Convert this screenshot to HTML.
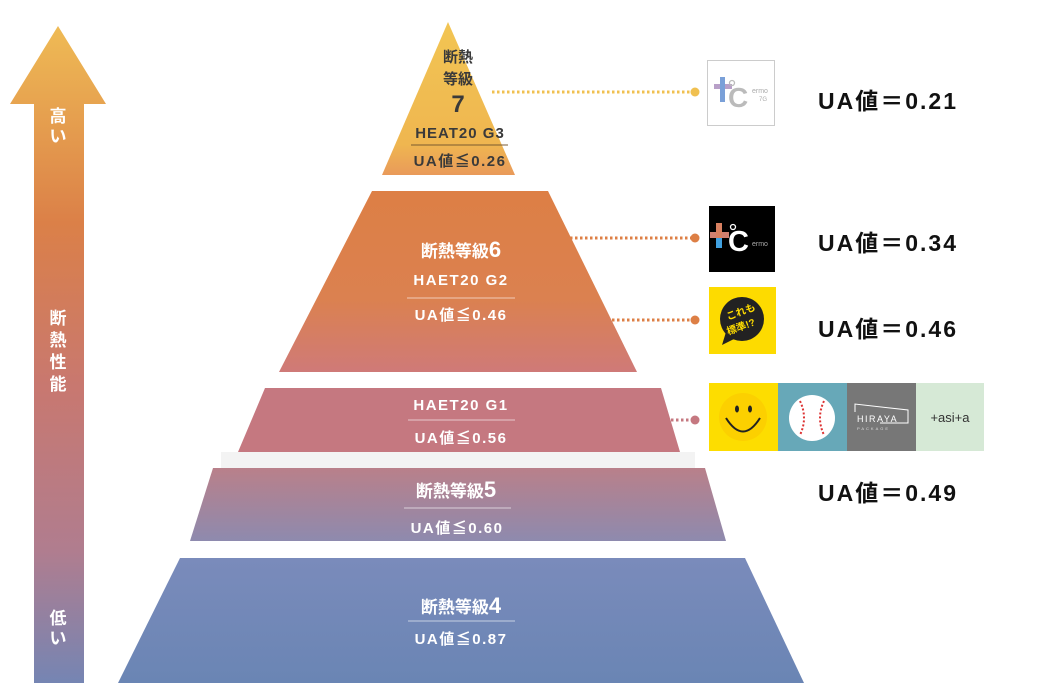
<!DOCTYPE html>
<html><head><meta charset="utf-8"><style>
html,body{margin:0;padding:0;background:#fff;}
svg text{font-family:"Liberation Sans","Noto Sans CJK JP",sans-serif;}
</style></head><body>
<svg width="1060" height="694" viewBox="0 0 1060 694" xmlns="http://www.w3.org/2000/svg">
<defs>
<linearGradient id="ga" gradientUnits="userSpaceOnUse" x1="0" y1="26" x2="0" y2="683">
<stop offset="0" stop-color="#efbb55"/><stop offset="0.3" stop-color="#db8048"/><stop offset="0.55" stop-color="#c87870"/><stop offset="0.8" stop-color="#b07d8f"/><stop offset="1" stop-color="#7585b3"/></linearGradient>
<linearGradient id="g7" x1="0" y1="22" x2="0" y2="175" gradientUnits="userSpaceOnUse"><stop offset="0" stop-color="#f2c553"/><stop offset="0.8" stop-color="#efb650"/><stop offset="1" stop-color="#e99a5a"/></linearGradient>
<linearGradient id="g6" x1="0" y1="191" x2="0" y2="372" gradientUnits="userSpaceOnUse"><stop offset="0" stop-color="#dd7f45"/><stop offset="0.6" stop-color="#db8150"/><stop offset="1" stop-color="#cf7a78"/></linearGradient>
<linearGradient id="g5" x1="0" y1="468" x2="0" y2="541" gradientUnits="userSpaceOnUse"><stop offset="0" stop-color="#b9808a"/><stop offset="1" stop-color="#8e8aae"/></linearGradient>
<linearGradient id="g4" x1="0" y1="558" x2="0" y2="683" gradientUnits="userSpaceOnUse"><stop offset="0" stop-color="#7a8bbb"/><stop offset="1" stop-color="#6a85b4"/></linearGradient>
</defs>

<polygon points="58,26 106,104 84,104 84,683 34,683 34,104 10,104" fill="url(#ga)"/>
<g fill="#fff" font-size="17" font-weight="bold" text-anchor="middle">
<text x="58" y="122">高</text><text x="58" y="142">い</text>
<text x="58" y="324">断</text><text x="58" y="346">熱</text><text x="58" y="368">性</text><text x="58" y="390">能</text>
<text x="58" y="624">低</text><text x="58" y="644">い</text>
</g>

<polygon points="448,22 515,175 382,175" fill="url(#g7)"/>
<polygon points="372,191 548,191 637,372 279,372" fill="url(#g6)"/>
<polygon points="265,388 661,388 680,452 238,452" fill="#c57880"/>
<rect x="221" y="452" width="474" height="16" fill="#f3f3f3"/>
<polygon points="213,468 705,468 726,541 190,541" fill="url(#g5)"/>
<polygon points="180,558 745,558 804,683 118,683" fill="url(#g4)"/>

<g fill="#3a3a3a" font-weight="bold" text-anchor="middle">
<text x="458" y="62" font-size="15">断熱</text>
<text x="458" y="84" font-size="15">等級</text>
<text x="458" y="112" font-size="24">7</text>
<text x="460" y="138" font-size="15" letter-spacing="1">HEAT20 G3</text>
<text x="460" y="166" font-size="15" letter-spacing="1.5">UA値≦0.26</text>
</g>
<line x1="411" y1="145" x2="508" y2="145" stroke="#7a5a30" stroke-width="1"/>

<g fill="#fff" font-weight="bold" text-anchor="middle">
<text x="461" y="257" font-size="17">断熱等級<tspan font-size="22">6</tspan></text>
<text x="461" y="285" font-size="15" letter-spacing="1.5">HAET20 G2</text>
<text x="461" y="320" font-size="15" letter-spacing="1.5">UA値≦0.46</text>
<text x="461" y="410" font-size="15" letter-spacing="1.5">HAET20 G1</text>
<text x="461" y="443" font-size="15" letter-spacing="1.5">UA値≦0.56</text>
<text x="456" y="497" font-size="17">断熱等級<tspan font-size="22">5</tspan></text>
<text x="457" y="533" font-size="15" letter-spacing="1.5">UA値≦0.60</text>
<text x="461" y="613" font-size="17">断熱等級<tspan font-size="22">4</tspan></text>
<text x="461" y="644" font-size="15" letter-spacing="1.5">UA値≦0.87</text>
</g>
<g stroke="#fff" stroke-opacity="0.6" stroke-width="1">
<line x1="407" y1="298" x2="515" y2="298"/>
<line x1="408" y1="420" x2="515" y2="420"/>
<line x1="404" y1="508" x2="511" y2="508"/>
<line x1="408" y1="621" x2="515" y2="621"/>
</g>

<line x1="492" y1="92" x2="692" y2="92" stroke="#f0c050" stroke-width="3" stroke-dasharray="2.5,2.5"/>
<circle cx="695" cy="92" r="4.5" fill="#f0c050"/>
<line x1="570" y1="238" x2="692" y2="238" stroke="#dd7f45" stroke-width="3" stroke-dasharray="2.5,2.5"/>
<circle cx="695" cy="238" r="4.5" fill="#dd7f45"/>
<line x1="612" y1="320" x2="692" y2="320" stroke="#dd7f45" stroke-width="3" stroke-dasharray="2.5,2.5"/>
<circle cx="695" cy="320" r="4.5" fill="#dd7f45"/>
<line x1="661" y1="420" x2="692" y2="420" stroke="#c57880" stroke-width="3" stroke-dasharray="2.5,2.5"/>
<circle cx="695" cy="420" r="4.5" fill="#c57880"/>

<rect x="707.5" y="60.5" width="67" height="65" fill="#fff" stroke="#ccc"/>
<rect x="714" y="84" width="18" height="5" fill="#b8a0c8"/><rect x="720" y="77" width="5" height="25" fill="#7aa0d8"/>
<text x="728" y="107" font-size="28" fill="#bbb" font-weight="bold">C</text>
<circle cx="732" cy="83" r="2.5" fill="none" stroke="#bbb" stroke-width="1.3"/>
<text x="752" y="93" font-size="7" fill="#aaa">ermo</text><text x="759" y="101" font-size="6" fill="#aaa">7G</text>

<rect x="709" y="206" width="66" height="66" fill="#000"/>
<rect x="710" y="232" width="19" height="6" fill="#d08070"/><rect x="716" y="223" width="6" height="25" fill="#d88060"/>
<rect x="716" y="238" width="6" height="10" fill="#40a0e0"/>
<text x="728" y="251" font-size="29" fill="#fff" font-weight="bold">C</text>
<circle cx="733" cy="227" r="2.5" fill="none" stroke="#fff" stroke-width="1.3"/>
<text x="752" y="246" font-size="7" fill="#aaa">ermo</text>

<rect x="709" y="287" width="67" height="67" fill="#fddb00"/>
<circle cx="742" cy="319" r="22" fill="#222"/>
<polygon points="726,332 722,345 736,338" fill="#222"/>
<text x="742" y="315" font-size="10" fill="#fddb00" text-anchor="middle" font-weight="bold" transform="rotate(-20 742 315)">これも</text>
<text x="742" y="330" font-size="10" fill="#fddb00" text-anchor="middle" font-weight="bold" transform="rotate(-20 742 330)">標準!?</text>

<rect x="709" y="383" width="69" height="68" fill="#fddd00"/>
<circle cx="743" cy="417" r="24" fill="#fcd000"/>
<ellipse cx="737" cy="409" rx="2" ry="3.5" fill="#222"/><ellipse cx="750" cy="409" rx="2" ry="3.5" fill="#222"/>
<path d="M726,418 Q743,445 760,418" fill="none" stroke="#222" stroke-width="2"/>
<rect x="778" y="383" width="69" height="68" fill="#67a8b8"/>
<circle cx="812" cy="418" r="23" fill="#fff"/>
<path d="M800,401 Q808,418 800,435" fill="none" stroke="#d33" stroke-width="2" stroke-dasharray="2,2"/>
<path d="M824,401 Q816,418 824,435" fill="none" stroke="#d33" stroke-width="2" stroke-dasharray="2,2"/>
<rect x="847" y="383" width="69" height="68" fill="#777"/>
<polyline points="855,412 855,404 908,410 908,423 880,423" fill="none" stroke="#fff" stroke-width="1"/>
<text x="857" y="422" font-size="9" fill="#fff" letter-spacing="1.5">HIRAYA</text>
<text x="857" y="430" font-size="4" fill="#ddd" letter-spacing="2">PACKAGE</text>
<rect x="916" y="383" width="68" height="68" fill="#d6e9d6"/>
<text x="950" y="422" font-size="13" fill="#333" text-anchor="middle">+asi+a</text>

<g fill="#111" font-size="23" font-weight="bold" letter-spacing="2">
<text x="818" y="109">UA値＝0.21</text>
<text x="818" y="251">UA値＝0.34</text>
<text x="818" y="337">UA値＝0.46</text>
<text x="818" y="501">UA値＝0.49</text>
</g>
</svg>
</body></html>
